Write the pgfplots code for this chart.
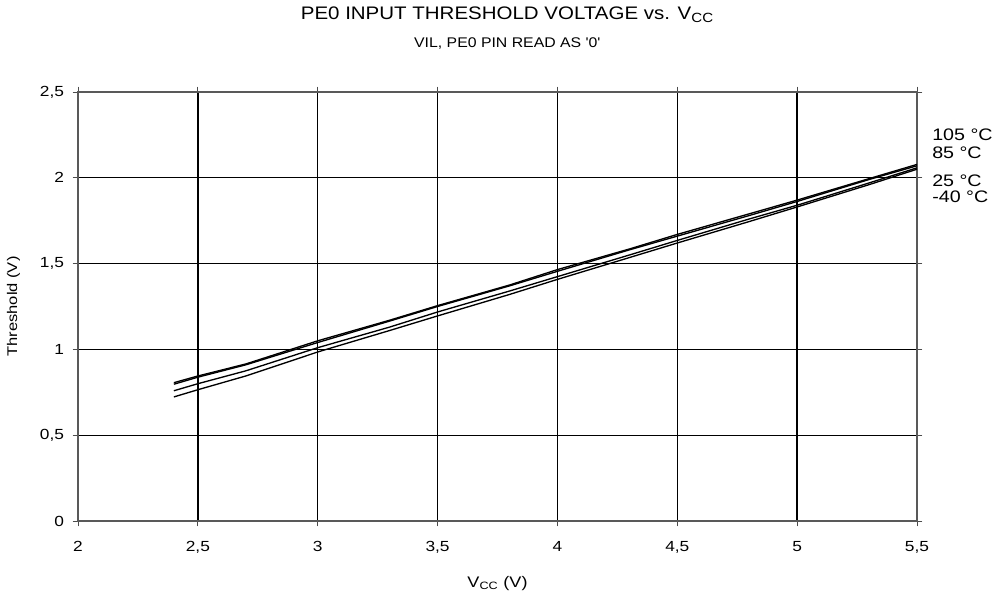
\documentclass[border=0pt]{standalone}
\usepackage{pgfplots}
\pgfplotsset{compat=1.18}
\usepackage{fontspec}
\setmainfont{Liberation Sans}[FakeStretch=1.18]
\newfontfamily\titlefont[FakeStretch=1.13]{Liberation Sans}
\begin{document}
\begin{tikzpicture}[x=1pt,y=1pt]
\useasboundingbox (-58.5,-57.75) rectangle (689.25,390.75);
\begin{axis}[
  at={(0,0)}, anchor=origin,
  scale only axis,
  width=629.25pt, height=321.75pt,
  xmin=2, xmax=5.5, ymin=0, ymax=2.5,
  xtick={2,2.5,3,3.5,4,4.5,5,5.5},
  ytick={0,0.5,1,1.5,2,2.5},
  /pgf/number format/use comma,
  /pgf/number format/assume math mode=true,
  ticklabel style={font=\fontsize{11}{12}\selectfont},
  xticklabel style={yshift=-8pt},
  yticklabel style={xshift=-3pt},
  tick align=outside,
  major tick length=4pt,
  tick style={color=black!70, line width=0.6pt},
  axis line style={color=black!65, line width=1pt},
  grid=major,
  major grid style={black, line width=1pt},
  xlabel={V\textsubscript{\fontsize{8}{9}\selectfont CC} (V)},
  xlabel style={font=\fontsize{11.5}{12}\selectfont, yshift=-10pt},
  ylabel={Threshold (V)},
  ylabel style={font=\fontsize{10.5}{12}\selectfont, yshift=8pt},
  cycle list={{black},{black},{black},{black}},
  every axis plot/.append style={line width=1pt, no marks},
  clip=false,
]
\addplot coordinates {(2.4,0.806) (2.5,0.845) (2.7,0.915) (3.0,1.050) (3.3,1.170) (3.5,1.255) (3.8,1.375) (4.0,1.465) (4.3,1.585) (4.5,1.670) (4.8,1.790) (5.0,1.870) (5.3,1.995) (5.5,2.078)};
\addplot coordinates {(2.4,0.797) (2.5,0.838) (2.7,0.910) (3.0,1.040) (3.3,1.165) (3.5,1.250) (3.8,1.370) (4.0,1.455) (4.3,1.580) (4.5,1.660) (4.8,1.780) (5.0,1.862) (5.3,1.990) (5.5,2.070)};
\addplot coordinates {(2.4,0.759) (2.5,0.800) (2.7,0.875) (3.0,1.010) (3.3,1.130) (3.5,1.218) (3.8,1.340) (4.0,1.424) (4.3,1.550) (4.5,1.635) (4.8,1.760) (5.0,1.840) (5.3,1.970) (5.5,2.058)};
\addplot coordinates {(2.4,0.723) (2.5,0.765) (2.7,0.845) (3.0,0.985) (3.3,1.110) (3.5,1.195) (3.8,1.320) (4.0,1.408) (4.3,1.535) (4.5,1.620) (4.8,1.745) (5.0,1.830) (5.3,1.960) (5.5,2.050)};
\end{axis}
\node[anchor=west, font=\fontsize{12.5}{13}\selectfont, inner sep=0pt] at (640.5,289.5) {105 °C};
\node[anchor=west, font=\fontsize{12.5}{13}\selectfont, inner sep=0pt] at (640.5,276.5) {85 °C};
\node[anchor=west, font=\fontsize{12.5}{13}\selectfont, inner sep=0pt] at (640.5,255) {25 °C};
\node[anchor=west, font=\fontsize{12.5}{13}\selectfont, inner sep=0pt] at (640.5,243.5) {-40 °C};
\node[font=\titlefont\fontsize{13.6}{15}\selectfont, inner sep=0pt] at (322,379.5) {PE0 INPUT THRESHOLD VOLTAGE vs. V\textsubscript{\fontsize{10}{11}\selectfont CC}};
\node[font=\titlefont\fontsize{10.5}{12}\selectfont, inner sep=0pt] at (322,357.75) {VIL, PE0 PIN READ AS '0'};
\end{tikzpicture}
\end{document}
